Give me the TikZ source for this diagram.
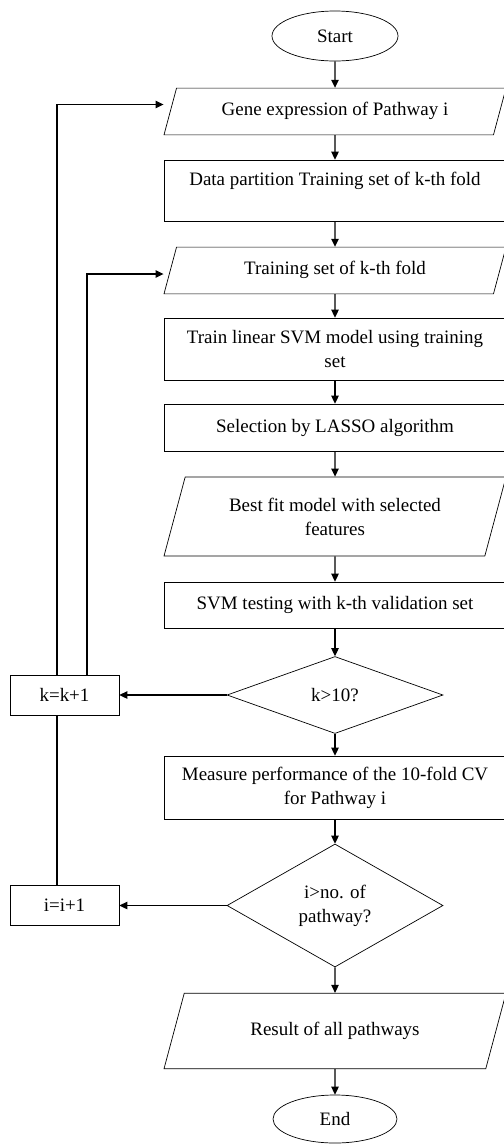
\documentclass[tikz,border=0pt]{standalone}
\usepackage{fontspec}
\setmainfont{Liberation Serif}
\usepackage{tikz}
\usetikzlibrary{arrows.meta,positioning,shapes.geometric,backgrounds}
\newcommand{\chartfont}{\fontsize{10.8}{13.7}\selectfont}

\begin{document}
\begin{tikzpicture}[
  box/.style={draw,minimum width=6.84cm,align=center,inner sep=2pt,font=\chartfont},
  io/.style={draw,trapezium,trapezium left angle=75,trapezium right angle=105,
    trapezium stretches body,minimum width=6.84cm,align=center,inner xsep=2pt,
    text height=7.5pt,text depth=2.5pt,font=\chartfont},
  term/.style={draw,ellipse,minimum width=2.52cm,minimum height=1cm,inner sep=0pt,font=\chartfont},
  test/.style={draw,diamond,minimum width=4.32cm,align=center,inner sep=0pt,font=\chartfont},
  inc/.style={draw,fill=white,minimum width=2.18cm,minimum height=0.8cm,font=\chartfont},
  ar/.style={-{Triangle[length=1.6mm,width=1.5mm]},line width=0.6pt}
]
\useasboundingbox (0,0) rectangle (10.08,-22.88);

\node[term] (start) at (6.7,-0.72) {Start};
\node[io,inner ysep=8.3pt] (gene) at (6.7,-2.23) {Gene expression of Pathway i};
\node[box,minimum height=1.22cm] (datapart) at (6.7,-3.81) {Data partition Training set of k-th fold\\ \mbox{}};
\node[io,inner ysep=8.3pt] (trainset) at (6.7,-5.41) {Training set of k-th fold};
\node[box,minimum height=1.24cm] (train) at (6.7,-6.98) {Train linear SVM model using training\\set};
\node[box,minimum height=0.94cm] (select) at (6.7,-8.55) {Selection by LASSO algorithm};
\node[io,text height=,text depth=,inner ysep=11.8pt] (bestfit) at (6.7,-10.33) {Best fit model with selected\\features};
\node[box,minimum height=0.92cm] (svmtest) at (6.7,-12.10) {SVM testing with k-th validation set};
\node[test,minimum height=1.54cm] (kcheck) at (6.7,-13.90) {k>10?};
\node[inc] (kinc) at (1.29,-13.90) {k=k+1};
\node[box,minimum height=1.26cm] (measure) at (6.7,-15.75) {Measure performance of the 10-fold CV\\for Pathway i};
\node[test,minimum height=2.46cm] (icheck) at (6.7,-18.11) {i>no. of\\pathway?};
\node[inc] (iinc) at (1.29,-18.11) {i=i+1};
\node[io,inner ysep=16.5pt] (result) at (6.7,-20.62) {Result of all pathways};
\node[term,minimum width=2.48cm,minimum height=0.96cm] (stop) at (6.7,-22.38) {End};

% main flow
\draw[ar] (start) -- (gene);
\draw[ar] (gene) -- (datapart);
\draw[ar] (datapart) -- (trainset);
\draw[ar] (trainset) -- (train);
\draw[ar] (train) -- (select);
\draw[ar] (select) -- (bestfit);
\draw[ar] (bestfit) -- (svmtest);
\draw[ar] (svmtest) -- (kcheck);
\draw[ar] (kcheck) -- (measure);
\draw[ar] (measure) -- (icheck);
\draw[ar] (icheck) -- (result);
\draw[ar] (result) -- (stop);

% loops back
\draw[ar] (kcheck.west) -- (kinc.east);
\draw[ar] (icheck.west) -- (iinc.east);
\draw[ar] ([xshift=0.45cm]kinc.north) |- ([yshift=-0.07cm]trainset.west -| trainset.bottom left corner);
\begin{scope}[on background layer]
\draw[ar] ([xshift=-0.15cm]iinc.north) |- ([yshift=0.14cm]gene.west -| gene.bottom left corner);
\end{scope}
\end{tikzpicture}
\end{document}
